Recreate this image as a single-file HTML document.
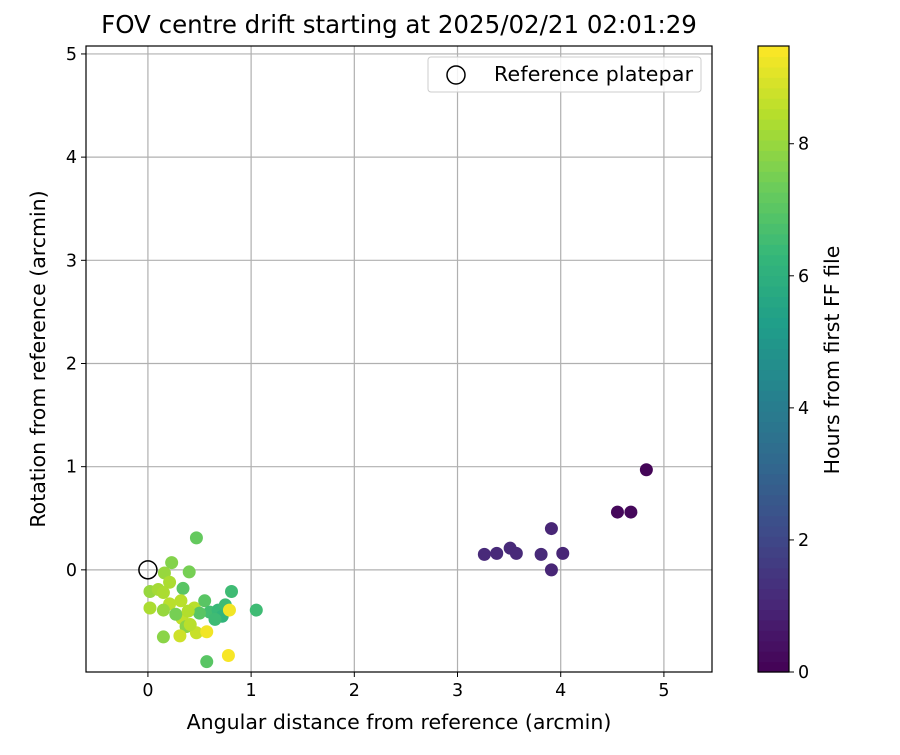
<!DOCTYPE html>
<html><head><meta charset="utf-8"><style>
body{margin:0;background:#fff;font-family:"Liberation Sans","DejaVu Sans",sans-serif}
</style></head><body>
<svg id="chart" width="900" height="750" xmlns="http://www.w3.org/2000/svg" font-family="DejaVu Sans, Liberation Sans, sans-serif"></svg>
<script>
const xVals=[4.83,4.55,4.68,3.91,3.26,3.38,3.51,3.57,3.81,4.02,3.91,
0.47,0.40,0.23,0.16,0.21,0.02,0.10,0.15,0.21,0.34,0.81,1.05,0.02,0.15,0.32,0.45,0.55,0.60,0.68,0.75,0.72,0.65,0.79,0.33,0.37,0.47,0.31,0.15,0.57,0.78,0.57,0.41,0.27,0.50,0.39];
const yVals=[0.97,0.56,0.56,0.40,0.15,0.16,0.21,0.16,0.15,0.16,0.00,
0.31,-0.02,0.07,-0.03,-0.12,-0.21,-0.19,-0.22,-0.33,-0.18,-0.21,-0.39,-0.37,-0.39,-0.30,-0.37,-0.30,-0.41,-0.39,-0.34,-0.45,-0.48,-0.39,-0.47,-0.55,-0.61,-0.64,-0.65,-0.60,-0.83,-0.89,-0.53,-0.43,-0.42,-0.40];
const hours=[0.1,0.2,0.2,1.0,1.1,1.1,1.1,1.1,1.1,1.0,1.0,
7.2,7.5,7.7,8.0,8.3,8.0,8.2,8.3,8.5,7.0,6.5,6.5,8.3,8.0,8.5,8.5,7.0,6.6,6.4,6.5,6.2,6.5,9.3,8.6,7.8,8.7,8.8,7.8,9.3,9.4,7.0,8.5,7.5,7.0,8.4];
const xTicks=[0,1,2,3,4,5], yTicks=[0,1,2,3,4,5], cTicks=[0,2,4,6,8];
const NS="http://www.w3.org/2000/svg", svg=document.getElementById('chart');
function el(t,a,txt){const e=document.createElementNS(NS,t);for(const k in a)e.setAttribute(k,a[k]);if(txt!==undefined)e.textContent=txt;svg.appendChild(e);return e;}
const L=86,R=712,T=46,B=672,xmin=-0.6,xmax=5.466,ymin=-0.99,ymax=5.077,cmax=9.48;
const sx=v=>L+(v-xmin)/(xmax-xmin)*(R-L), sy=v=>B-(v-ymin)/(ymax-ymin)*(B-T);
const vir=[[68,1,84],[72,40,120],[62,74,137],[49,104,142],[38,130,142],[31,158,137],[53,183,121],[109,205,89],[180,222,44],[253,231,37]];
function cmap(t){t=Math.max(0,Math.min(1,t))*9;const i=Math.min(8,Math.floor(t)),f=t-i;const a=vir[i],b=vir[i+1];return `rgb(${a.map((v,k)=>Math.round(v+(b[k]-v)*f)).join(',')})`;}
el('text',{x:399,y:33,'font-size':24.5,'text-anchor':'middle',},'FOV centre drift starting at 2025/02/21 02:01:29');
xTicks.forEach(t=>{const x=sx(t);el('line',{x1:x,x2:x,y1:T,y2:B,stroke:'#b0b0b0','stroke-width':1.2,});el('line',{x1:x,x2:x,y1:B,y2:B+5,stroke:'#000'});el('text',{x:x,y:B+24,'font-size':17.5,'text-anchor':'middle',},t);});
yTicks.forEach(t=>{const y=sy(t);el('line',{x1:L,x2:R,y1:y,y2:y,stroke:'#b0b0b0','stroke-width':1.2,});el('line',{x1:L-5,x2:L,y1:y,y2:y,stroke:'#000'});el('text',{x:L-9,y:y+6,'font-size':17.5,'text-anchor':'end',},t);});
xVals.forEach((v,i)=>{el('circle',{cx:sx(v),cy:sy(yVals[i]),r:6.5,fill:cmap(hours[i]/cmax),});});
el('circle',{cx:sx(0),cy:sy(0),r:9,fill:'none',stroke:'#000','stroke-width':1.5,});
el('rect',{x:L,y:T,width:R-L,height:B-T,fill:'none',stroke:'#000','stroke-width':1.2,});
el('rect',{x:428,y:57,width:273,height:35,rx:3,fill:'#fff','fill-opacity':0.85,stroke:'#ccc',});
el('circle',{cx:456,cy:75,r:9,fill:'none',stroke:'#000','stroke-width':1.5,});
el('text',{x:494,y:81,'font-size':20.5,'textLength':199,},'Reference platepar');
el('text',{x:399,y:729,'font-size':20.5,'text-anchor':'middle',},'Angular distance from reference (arcmin)');
el('text',{x:45,y:359,'font-size':20.5,'text-anchor':'middle',transform:'rotate(-90 45 359)',},'Rotation from reference (arcmin)');
const CL=758,CR=789,n=60;
for(let i=0;i<n;i++){const y0=B-(i+1)*(B-T)/n;el('rect',{x:CL,y:y0,width:CR-CL,height:(B-T)/n+0.6,fill:cmap((i+0.5)/n),});}
el('rect',{x:CL,y:T,width:CR-CL,height:B-T,fill:'none',stroke:'#000','stroke-width':1.2,});
cTicks.forEach(t=>{const y=B-t/cmax*(B-T);el('line',{x1:CR,x2:CR+5,y1:y,y2:y,stroke:'#000'});el('text',{x:CR+9,y:y+6,'font-size':17.5,},t);});
el('text',{x:839,y:360,'font-size':20.5,'text-anchor':'middle',transform:'rotate(-90 839 360)',},'Hours from first FF file');
</script>
</body></html>
